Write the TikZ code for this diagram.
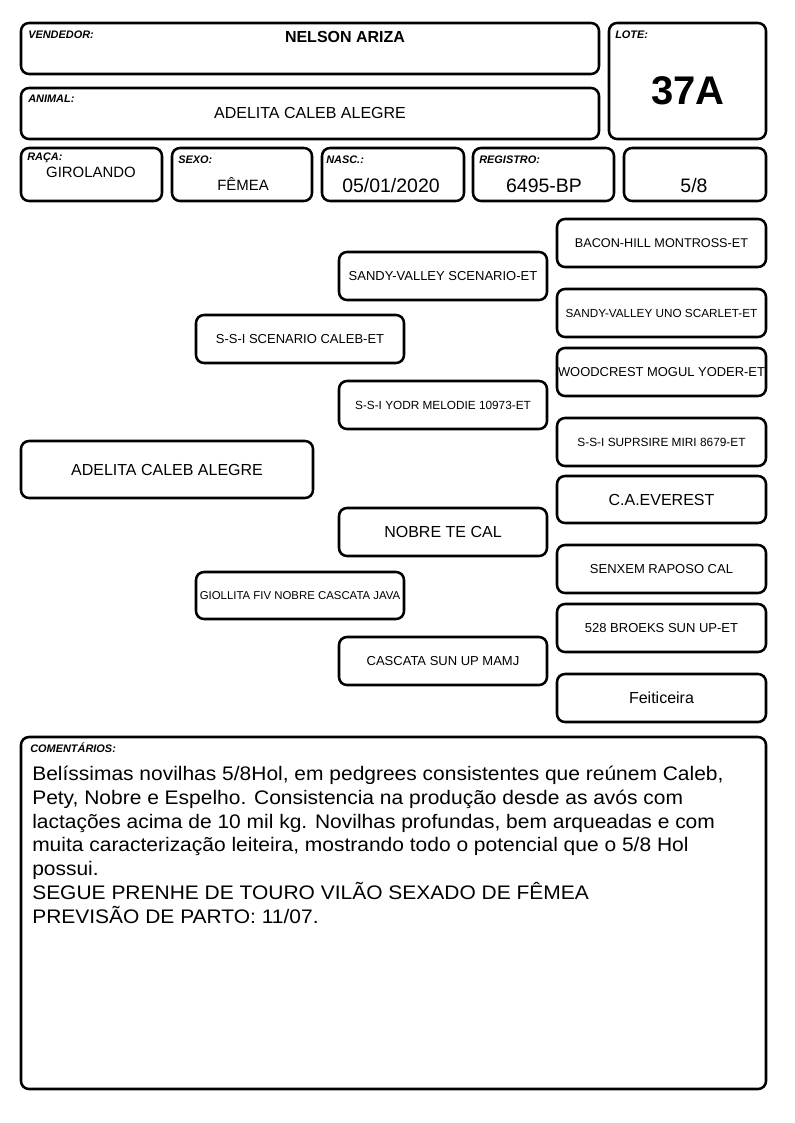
\documentclass[tikz,border=0pt]{standalone}
\usepackage{fontspec}
\setmainfont{Liberation Sans}
\newfontfamily\widesans[FakeStretch=1.07]{Liberation Sans}
\usepackage{tikz}
\newcommand{\sz}[1]{\fontsize{#1}{#1}\selectfont}

\begin{document}
\begin{tikzpicture}[x=0.75pt, y=-0.75pt,
    card/.style={draw, line width=1.9pt, rounded corners=6pt, inner sep=0pt, align=center},
    box size/.style 2 args={minimum width=#1*0.75pt, minimum height=#2*0.75pt},
    tag/.style={anchor=west, inner sep=0pt, font=\sz{8.2}\bfseries\itshape},
    entry/.style={inner sep=0pt}]

    \useasboundingbox (0,0) rectangle (794,1123);

    % --- Cabecalho ---
    \node[card, box size={578}{51}] (vendedor) at (310,48.5) {};
    \node[card, box size={578}{51}] (animal) at (310,113.5) {};
    \node[card, box size={157}{116}] (lote) at (687.5,81) {};
    \node[tag] (vendedorTag) at (28,35) {VENDEDOR:};
    \node[tag] (animalTag) at (28,99) {ANIMAL:};
    \node[tag] (loteTag) at (615,35) {LOTE:};
    \node[entry, font=\sz{12}\bfseries] (vendedorNome) at (345,37) {NELSON ARIZA};
    \node[entry, font=\sz{12}] (animalNome) at (310,113) {ADELITA CALEB ALEGRE};
    \node[entry, font=\sz{30}\bfseries] (loteNum) at (688,91) {37A};

    % Linha de dados
    \node[card, box size={141}{53}] (raca) at (91.5,174.5) {};
    \node[card, box size={140}{53}] (sexo) at (242,174.5) {};
    \node[card, box size={142}{53}] (nasc) at (393,174.5) {};
    \node[card, box size={141}{53}] (registro) at (543.5,174.5) {};
    \node[card, box size={142}{53}] (grau) at (695,174.5) {};
    \node[tag] (racaTag) at (27,158) {RAÇA:};
    \node[tag] (sexoTag) at (178,160) {SEXO:};
    \node[tag] (nascTag) at (326,160) {NASC.:};
    \node[tag] (registroTag) at (479,160) {REGISTRO:};
    \node[entry, font=\sz{11.2}] (racaVal) at (91,172) {GIROLANDO};
    \node[entry, font=\sz{11.2}] (sexoVal) at (243,184) {FÊMEA};
    \node[entry, font=\sz{14.6}] (nascVal) at (391,186) {05/01/2020};
    \node[entry, font=\sz{14.6}] (registroVal) at (544,186) {6495-BP};
    \node[entry, font=\sz{14.6}] (grauVal) at (694,186) {5/8};

    % --- Genealogia ---
    \node[card, box size={292}{57}, font=\sz{12}] (animalPed) at (167,469.5) {ADELITA CALEB ALEGRE};

    % pais
    \node[card, box size={208}{48}, font=\sz{9.75}] (pai) at (300,339) {S-S-I SCENARIO CALEB-ET};
    \node[card, box size={208}{47}, font=\sz{8.55}] (mae) at (300,595.5) {GIOLLITA FIV NOBRE CASCATA JAVA};

    % avos
    \node[card, box size={208}{48}, font=\sz{9.75}] (avoPP) at (443,276) {SANDY-VALLEY SCENARIO-ET};
    \node[card, box size={208}{48}, font=\sz{8.85}] (avoPM) at (443,405) {S-S-I YODR MELODIE 10973-ET};
    \node[card, box size={208}{48}, font=\sz{12}] (avoMP) at (443,532) {NOBRE TE CAL};
    \node[card, box size={208}{48}, font=\sz{9.75}] (avoMM) at (443,661) {CASCATA SUN UP MAMJ};

    % bisavos
    \node[card, box size={209}{48}, font=\sz{9.5}] (bisPPP) at (661.5,243) {BACON-HILL MONTROSS-ET};
    \node[card, box size={209}{48}, font=\sz{8.8}] (bisPPM) at (661.5,313) {SANDY-VALLEY UNO SCARLET-ET};
    \node[card, box size={209}{48}, font=\sz{9.7}] (bisPMP) at (661.5,372) {WOODCREST MOGUL YODER-ET};
    \node[card, box size={209}{48}, font=\sz{8.9}] (bisPMM) at (661.5,442) {S-S-I SUPRSIRE MIRI 8679-ET};
    \node[card, box size={209}{47}, font=\sz{12}] (bisMPP) at (661.5,499.5) {C.A.EVEREST};
    \node[card, box size={209}{48}, font=\sz{9.75}] (bisMPM) at (661.5,569) {SENXEM RAPOSO CAL};
    \node[card, box size={209}{48}, font=\sz{9.75}] (bisMMP) at (661.5,628) {528 BROEKS SUN UP-ET};
    \node[card, box size={209}{48}, font=\sz{12}] (bisMMM) at (661.5,698) {Feiticeira};

    % --- Comentarios ---
    \node[card, box size={745}{352}] (comentarios) at (393.5,913) {};
    \node[tag] (comentariosTag) at (30,748) {COMENTÁRIOS:};
    \node[entry, anchor=north west, align=left, font=\widesans\fontsize{14.7}{17.8}\selectfont] (comentariosTxt) at (32,766)
        {Belíssimas novilhas 5/8Hol, em pedgrees consistentes que reúnem Caleb,\\
         Pety, Nobre e Espelho. Consistencia na produção desde as avós com\\
         lactações acima de 10 mil kg. Novilhas profundas, bem arqueadas e com\\
         muita caracterização leiteira, mostrando todo o potencial que o 5/8 Hol\\
         possui.\\
         SEGUE PRENHE DE TOURO VILÃO SEXADO DE FÊMEA\\
         PREVISÃO DE PARTO: 11/07.};
\end{tikzpicture}
\end{document}
